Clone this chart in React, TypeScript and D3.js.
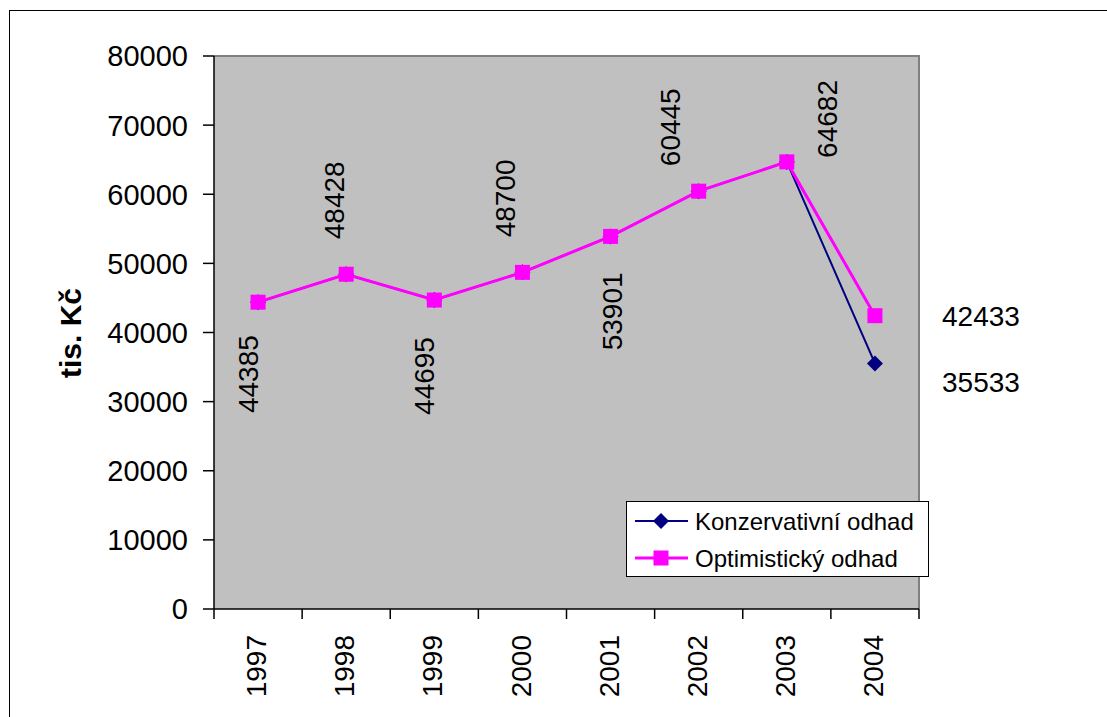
import * as d3 from "d3";

const years = ["1997", "1998", "1999", "2000", "2001", "2002", "2003", "2004"];
const konzervativni = [44385, 48428, 44695, 48700, 53901, 60445, 64682, 35533];
const optimisticky = [44385, 48428, 44695, 48700, 53901, 60445, 64682, 42433];
const yTicks = [0, 10000, 20000, 30000, 40000, 50000, 60000, 70000, 80000];
// data label placement: side of the point and a small shift (px)
const labelSide = ["below", "above", "below", "above", "below", "above", "above"];
const labelDx = [-10, -12, -10, -18, 1, -29, 40];
const labelGap = [33, 35, 37, 35, 36, 25, 4];

const W = 1107;
const H = 717;
const plot = { left: 214, top: 56, right: 919, bottom: 609 };
const font = "Arial, 'Liberation Sans', sans-serif";

export default function App() {
  const x = d3
    .scaleBand<string>()
    .domain(years)
    .range([plot.left, plot.right]);
  const y = d3.scaleLinear().domain([0, 80000]).range([plot.bottom, plot.top]);
  const cx = (i: number) => (x(years[i]) ?? 0) + x.bandwidth() / 2;

  const line = d3
    .line<number>()
    .x((_, i) => cx(i))
    .y((d) => y(d));

  const r = 8;
  const diamond = `M0,${-r}L${r},0L0,${r}L${-r},0Z`;
  const sq = 15;

  const labelFor = (v: number, i: number) => {
    const side = labelSide[i];
    const px = cx(i) + labelDx[i];
    const py = y(v);
    const ty = side === "below" ? py + labelGap[i] : py - labelGap[i];
    return (
      <text
        key={"l" + i}
        transform={`translate(${px},${ty}) rotate(-90)`}
        textAnchor={side === "below" ? "end" : "start"}
        dy="0.36em"
        fontSize={28}
        fontFamily={font}
        fill="#000"
      >
        {v}
      </text>
    );
  };

  const last = years.length - 1;

  return (
    <svg
      width={W}
      height={H}
      style={{ position: "absolute", left: 0, top: 0, background: "#fff" }}
    >
      {/* chart frame */}
      <rect x={9.5} y={10.5} width={1200} height={800} fill="#fff" stroke="#000" strokeWidth={1} />

      {/* plot area */}
      <rect
        x={plot.left}
        y={plot.top}
        width={plot.right - plot.left}
        height={plot.bottom - plot.top}
        fill="#C0C0C0"
      />
      <path
        d={`M${plot.left},${plot.top}H${plot.right}V${plot.bottom}`}
        fill="none"
        stroke="#808080"
        strokeWidth={2}
      />

      {/* y axis */}
      <line x1={plot.left} x2={plot.left} y1={plot.top} y2={plot.bottom} stroke="#000" strokeWidth={1.5} />
      {yTicks.map((t) => (
        <g key={t}>
          <line x1={plot.left - 11} x2={plot.left} y1={y(t)} y2={y(t)} stroke="#000" strokeWidth={1.5} />
          <text
            x={188}
            y={y(t)}
            dy="0.36em"
            textAnchor="end"
            fontSize={29}
            fontFamily={font}
            fill="#000"
          >
            {t}
          </text>
        </g>
      ))}
      <text
        transform={`translate(70,333) rotate(-90)`}
        textAnchor="middle"
        dy="0.36em"
        fontSize={30}
        fontWeight="bold"
        fontFamily={font}
        fill="#000"
      >
        tis. Kč
      </text>

      {/* x axis */}
      <line x1={plot.left} x2={plot.right} y1={plot.bottom} y2={plot.bottom} stroke="#000" strokeWidth={1.5} />
      {years.map((yr) => (
        <line
          key={"t" + yr}
          x1={x(yr) ?? 0}
          x2={x(yr) ?? 0}
          y1={plot.bottom}
          y2={plot.bottom + 10}
          stroke="#000"
          strokeWidth={1.5}
        />
      ))}
      <line x1={plot.right} x2={plot.right} y1={plot.bottom} y2={plot.bottom + 10} stroke="#000" strokeWidth={1.5} />
      {years.map((yr, i) => (
        <text
          key={"x" + yr}
          transform={`translate(${cx(i) - 2},635) rotate(-90)`}
          textAnchor="end"
          dy="0.36em"
          fontSize={28}
          fontFamily={font}
          fill="#000"
        >
          {yr}
        </text>
      ))}

      {/* series */}
      <path d={line(konzervativni) ?? ""} fill="none" stroke="#000080" strokeWidth={2} />
      {konzervativni.map((v, i) => (
        <path key={"d" + i} d={diamond} transform={`translate(${cx(i)},${y(v)})`} fill="#000080" />
      ))}
      <path d={line(optimisticky) ?? ""} fill="none" stroke="#FF00FF" strokeWidth={3} />
      {optimisticky.map((v, i) => (
        <rect key={"s" + i} x={cx(i) - sq / 2} y={y(v) - sq / 2} width={sq} height={sq} fill="#FF00FF" />
      ))}

      {/* data labels */}
      {optimisticky.slice(0, last).map((v, i) => labelFor(v, i))}
      <text x={942} y={y(optimisticky[last])} dy="0.36em" fontSize={28} fontFamily={font} fill="#000">
        {optimisticky[last]}
      </text>
      <text x={942} y={y(konzervativni[last]) + 19} dy="0.36em" fontSize={28} fontFamily={font} fill="#000">
        {konzervativni[last]}
      </text>

      {/* legend */}
      <rect x={626.5} y={501.5} width={302} height={75} fill="#fff" stroke="#000" strokeWidth={1} />
      <line x1={635} x2={688} y1={521} y2={521} stroke="#000080" strokeWidth={2} />
      <path d={diamond} transform="translate(661,521)" fill="#000080" />
      <text x={695} y={521} dy="0.36em" fontSize={24} fontFamily={font} fill="#000">
        Konzervativní odhad
      </text>
      <line x1={635} x2={688} y1={558} y2={558} stroke="#FF00FF" strokeWidth={3} />
      <rect x={661 - sq / 2} y={558 - sq / 2} width={sq} height={sq} fill="#FF00FF" />
      <text x={695} y={558} dy="0.36em" fontSize={24} fontFamily={font} fill="#000">
        Optimistický odhad
      </text>
    </svg>
  );
}
